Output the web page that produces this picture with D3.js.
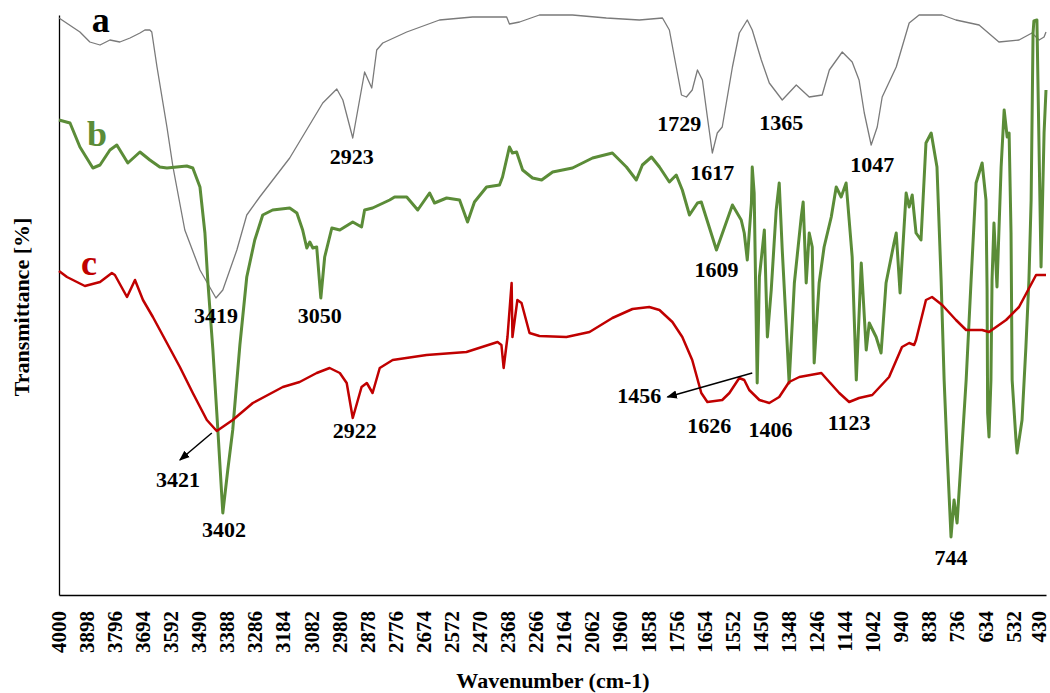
<!DOCTYPE html>
<meta charset="utf-8">
<style>
  body { margin: 0; background: #fff; }
  svg { font-family: "Liberation Serif", "Times New Roman", serif; font-weight: bold; }
  .lbl { font-size: 22px; fill: #000; }
</style>
<body>
<svg id="chart" width="1050" height="693"></svg>
<script src="https://d3js.org/d3.v7.min.js"></script>
<script>
// wavenumber (cm-1) / transmittance (arbitrary units)
var wnA = [4000,3924,3888,3851,3815,3779,3742,3706,3688,3670,3663,3644,3608,3586,3543,3488,3430,3405,3354,3318,3271,3162,3042,2991,2969,2933,2890,2864,2846,2824,2737,2618,2498,2374,2364,2327,2255,2135,2012,1892,1808,1783,1758,1739,1721,1700,1681,1663,1645,1627,1609,1591,1554,1529,1500,1482,1449,1420,1373,1322,1275,1228,1202,1155,1119,1094,1075,1050,1028,1010,959,912,876,792,742,658,586,513,466,440,422,415];
var trA = [115.4,112.6,110.6,110,111,110.6,111.4,112.4,113,113,112.6,105.6,93.6,85.6,73,65,59.4,61,69,76,79.6,87.4,98.4,101.2,99,91.4,104.6,101.4,109,110.4,112.6,115,115.6,115.6,114.2,114.6,116,116,115.4,115,115.4,113,105.6,100,99.6,101,105,103,95.6,88.4,92.4,93.6,105.6,112.4,115,113,107,102.4,99,102,99.6,100,105,108.6,106.6,103,96.4,90,93.6,99.6,105.6,114.4,116,116,115,114,110.6,111,112.4,111,111.6,112.6];

var wnB = [4000,3960,3924,3877,3851,3815,3790,3750,3706,3670,3634,3608,3536,3514,3488,3470,3459,3441,3423,3405,3387,3369,3343,3318,3289,3260,3224,3162,3136,3115,3100,3089,3078,3064,3049,3035,3009,2980,2933,2901,2890,2861,2799,2781,2737,2697,2654,2636,2592,2545,2516,2491,2447,2400,2389,2364,2353,2338,2316,2280,2247,2207,2135,2062,1990,1939,1903,1881,1848,1819,1783,1758,1736,1710,1681,1667,1612,1554,1522,1511,1500,1485,1482,1475,1464,1456,1438,1427,1413,1395,1384,1373,1359,1348,1329,1304,1297,1286,1275,1264,1257,1239,1221,1195,1177,1159,1141,1130,1119,1104,1086,1068,1057,1032,1014,996,967,959,945,923,912,901,887,869,851,832,811,796,785,774,760,749,738,724,705,687,669,647,633,629,627,622,615,611,604,593,578,567,556,549,542,538,524,520,502,488,477,469,462,459,448,433,422,415];
var trB = [95,94.4,89.6,85.4,86,89,90,86.4,88.6,87,85.6,85.4,85.8,85.4,81.6,72.4,62.4,49,33,16.4,25,33,50,63.6,71,76,77,77.4,76.4,73,69.4,70.6,69.4,69.6,59.4,67.6,73.4,73,74.6,73.6,77,77.4,79,79.6,79.6,77,80.4,78.4,79.4,79,74.6,78.6,81.6,82,83.6,89.6,88.4,88.6,85,83.4,83,84.6,85.4,87.4,88.4,85.6,83,86,87.6,85.6,82.6,84,81,76,78.4,78.6,69,78,75,72.4,67,78.4,85.6,80.4,42.4,63.6,73,51.6,61,77,82.4,69,54.4,42.4,62.4,75.6,78.6,62.4,72.4,69.6,46.4,62.4,69.6,75.6,81.6,79.6,82.4,75,67.6,43,66.4,49,54.4,51.6,48.4,62.4,70.4,72.4,60.4,80.4,77.6,80,72.4,71,90.4,92.4,85.6,63,43,28.4,11.6,19,14.4,26.4,43,63,82.4,86.4,79,61,36.4,31.6,43,63,74.4,61.6,85.6,97,91.6,92.4,72.4,43,31,28.4,35,49.6,63,79,112.4,114.8,115,65.6,92.4,101];

var wnC = [4000,3971,3906,3851,3808,3797,3753,3724,3695,3659,3608,3561,3514,3463,3427,3369,3296,3187,3126,3064,3017,2980,2955,2933,2901,2882,2861,2835,2788,2665,2520,2407,2393,2385,2371,2356,2353,2335,2320,2291,2255,2157,2073,1990,1917,1856,1819,1772,1736,1700,1667,1645,1591,1565,1529,1511,1493,1456,1420,1384,1348,1311,1231,1202,1166,1130,1094,1046,985,938,912,894,887,851,829,792,742,705,647,622,560,513,451,415];
var trC = [64.8,63.6,61.8,62.6,64.4,64,59.6,63,59,55.6,50.4,45.6,40.4,35,32.8,35,38.4,41.6,42.6,44.4,45.4,44.4,42.4,35.4,41.6,42.4,40.4,45.4,47,48,48.6,50.6,50,45.4,51.6,62.4,51.6,59,58.4,52.4,51.8,51.6,52.6,55.4,57.2,57.6,57,54.6,51.6,47,40.4,38.6,39,40.4,43.4,43,41,39,38.4,39.6,42.6,43.6,44.4,42.6,40.4,38.6,39.4,40,43.6,49.6,50.4,50,51,59,59.6,58,55,53,53,52.6,55,57.6,64,64];

var tickLabels = [4000,3898,3796,3694,3592,3490,3388,3286,3184,3082,2980,2878,2776,2674,2572,2470,2368,2266,2164,2062,1960,1858,1756,1654,1552,1450,1348,1246,1144,1042,940,838,736,634,532,430];

var seriesNames = ["a", "b", "c"];
var seriesColors = ["#7a7a7a", "#5b8c38", "#c00000"];
var seriesWidths = [1.3, 3, 2.5];
// series letter anchors [wavenumber, transmittance]
var seriesTags = [[3848, 112.6], [3862, 89.8], [3891, 64]];

// peak labels: text, wavenumber anchor, transmittance anchor (baseline)
var peakText = ["2923","1729","1617","1365","1047","1609","3419","3050","3421","3402","2922","1456","1626","1406","1123","744"];
var peakWn   = [2937,1747,1627,1377,1046,1612,3430,3053,3568,3401,2926,1892,1638,1416,1130,760];
var peakTr   = [86.2,92.8,83,93,84.6,63.6,54.4,54.4,21.6,11.6,31.4,38.4,32.4,31.6,33,6];

// arrows: [from wn, from tr, to wn, to tr]
var arrows = [[3445, 32.4, 3561, 27], [1482, 44.4, 1790, 39.6]];

var serif = '"Liberation Serif", "Times New Roman", serif';
var svg = d3.select("#chart");
var x = d3.scaleLinear().domain([4000, 415]).range([59, 1046]);
var y = d3.scaleLinear().domain([0, 116]).range([595, 15]);

svg.append("defs").append("marker")
  .attr("id", "head").attr("viewBox", "0 0 10 10").attr("refX", 9).attr("refY", 5)
  .attr("markerWidth", 7).attr("markerHeight", 7).attr("orient", "auto")
  .append("path").attr("d", "M0,1 L10,5 L0,9 z").attr("fill", "#000");

// axes
var xAxis = svg.append("g").attr("transform", "translate(0,595)")
  .call(d3.axisBottom(x).tickValues(tickLabels).tickSize(0).tickSizeOuter(0).tickFormat(d3.format("d")));
xAxis.select(".domain").attr("stroke", "#000").attr("stroke-width", 1.3);
xAxis.selectAll(".tick text")
  .style("font-family", serif)
  .style("font-size", "21px")
  .style("font-weight", "bold")
  .attr("fill", "#000")
  .attr("transform", "rotate(-90)")
  .attr("text-anchor", "end")
  .attr("x", -16)
  .attr("y", function (d, i) { return i == tickLabels.length - 1 ? -3 : 0; })
  .attr("dy", "0.3em");

var yAxis = svg.append("g").attr("transform", "translate(59,0)")
  .call(d3.axisLeft(y).tickValues([]).tickSizeOuter(0));
yAxis.select(".domain").attr("stroke", "#000").attr("stroke-width", 1.3);

svg.append("text").attr("class", "lbl")
  .attr("x", 553).attr("y", 688).attr("text-anchor", "middle").attr("font-size", 23)
  .text("Wavenumber (cm-1)");
svg.append("text").attr("class", "lbl")
  .attr("transform", "translate(29,307) rotate(-90)").attr("text-anchor", "middle").attr("font-size", 23)
  .text("Transmittance [%]");

// spectra
var line = d3.line().x(function (d) { return x(d[0]); }).y(function (d) { return y(d[1]); });
var allSeries = [d3.zip(wnA, trA), d3.zip(wnB, trB), d3.zip(wnC, trC)];
allSeries.forEach(function (s, i) {
  svg.append("path").datum(s)
    .attr("fill", "none")
    .attr("stroke", seriesColors[i])
    .attr("stroke-width", seriesWidths[i])
    .attr("stroke-linejoin", "round")
    .attr("d", line);
});

// series tags
seriesNames.forEach(function (n, i) {
  svg.append("text")
    .attr("x", x(seriesTags[i][0])).attr("y", y(seriesTags[i][1]))
    .attr("text-anchor", "middle").attr("font-size", 36)
    .attr("fill", i == 0 ? "#000" : seriesColors[i])
    .text(n);
});

// peak labels
peakText.forEach(function (t, i) {
  svg.append("text").attr("class", "lbl")
    .attr("x", x(peakWn[i])).attr("y", y(peakTr[i]))
    .attr("text-anchor", "middle")
    .text(t);
});

arrows.forEach(function (a) {
  svg.append("line")
    .attr("x1", x(a[0])).attr("y1", y(a[1]))
    .attr("x2", x(a[2])).attr("y2", y(a[3]))
    .attr("stroke", "#000").attr("stroke-width", 1.5)
    .attr("marker-end", "url(#head)");
});
</script>
</body>
